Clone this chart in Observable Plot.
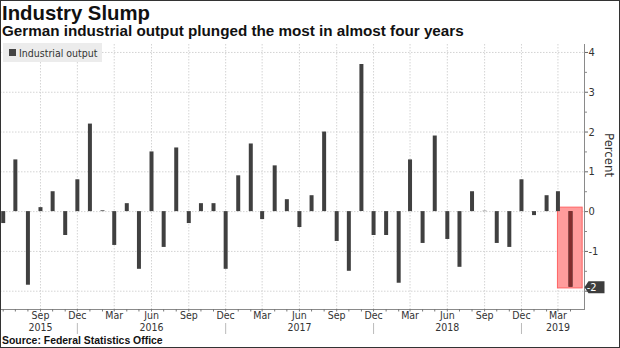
<!DOCTYPE html>
<html><head><meta charset="utf-8">
<script src="https://cdn.jsdelivr.net/npm/d3@7"></script>
<script src="https://cdn.jsdelivr.net/npm/@observablehq/plot@0.6"></script>
<style>
html,body{margin:0;padding:0;background:#fff;}
#wrap{position:relative;width:620px;height:348px;overflow:hidden;background:#fff;}
.hdr{position:absolute;left:2px;white-space:nowrap;font-family:"Liberation Sans",Arial,sans-serif;font-weight:bold;color:#111;line-height:1;}
#border{position:absolute;left:0;top:0;right:0;bottom:0;border:1px solid #333;pointer-events:none;}
#legend{position:absolute;left:3px;top:43px;height:19px;padding:0 5px 0 6px;background:#ececec;display:flex;align-items:center;font-family:"DejaVu Sans Condensed","DejaVu Sans",sans-serif;font-stretch:condensed;font-size:10.5px;color:#333;white-space:nowrap;}
#legend i{display:inline-block;width:7px;height:7px;background:#444;margin-right:3px;}
#chart{position:absolute;left:0;top:44px;}
</style></head>
<body><div id="wrap">
<div id="title" class="hdr"></div>
<div id="subtitle" class="hdr"></div>
<div id="chart"></div>
<div id="legend"><i></i><span id="legendText"></span></div>
<div id="source" class="hdr"></div>
<div id="border"></div>
</div>
<script>
const titleText = "Industry Slump";
const subtitleText = "German industrial output plunged the most in almost four years";
const sourceText = "Source: Federal Statistics Office";
const seriesName = "Industrial output";
const axisLabel = "Percent";

const months = [
  "2015-06","2015-07","2015-08","2015-09","2015-10","2015-11","2015-12",
  "2016-01","2016-02","2016-03","2016-04","2016-05","2016-06","2016-07","2016-08","2016-09","2016-10","2016-11","2016-12",
  "2017-01","2017-02","2017-03","2017-04","2017-05","2017-06","2017-07","2017-08","2017-09","2017-10","2017-11","2017-12",
  "2018-01","2018-02","2018-03","2018-04","2018-05","2018-06","2018-07","2018-08","2018-09","2018-10","2018-11","2018-12",
  "2019-01","2019-02","2019-03","2019-04"
];
const values = [
  -0.3, 1.3, -1.85, 0.1, 0.5, -0.6, 0.8,
  2.2, 0.02, -0.85, 0.2, -1.45, 1.5, -0.9, 1.6, -0.3, 0.2, 0.2, -1.45,
  0.9, 1.7, -0.2, 1.15, 0.3, -0.4, 0.4, 2.0, -0.75, -1.5, 3.7, -0.6,
  -0.6, -1.8, 1.3, -0.8, 1.9, -0.7, -1.4, 0.5, 0.01, -0.8, -0.9, 0.8,
  -0.1, 0.4, 0.5, -1.9
];
const yTicks = [-2, -1, 0, 1, 2, 3, 4];
const yTickLabels = ["", "-1", "0", "1", "2", "3", "4"];
const yMinorTicks = [-1.5, -0.5, 0.5, 1.5, 2.5, 3.5];
const labelMonths = ["2015-09","2015-12","2016-03","2016-06","2016-09","2016-12","2017-03","2017-06","2017-09","2017-12","2018-03","2018-06","2018-09","2018-12","2019-03"];
const yearLabelMonths = ["2015-09","2016-06","2017-06","2018-06","2019-03"];
const yearBreakMonths = ["2015-12","2016-12","2017-12","2018-12"];
const highlight = [{from: "2019-03", to: "2019-05", top: 0.1, bottom: -1.93}];

const parse = d3.utcParse("%Y-%m");
const data = months.map((m, i) => ({date: parse(m), value: values[i]}));
const last = data.slice(-1);

const tagSymbol = {draw(ctx) {
  ctx.moveTo(-10, 0); ctx.lineTo(-6, -6); ctx.lineTo(10, -6); ctx.lineTo(10, 6); ctx.lineTo(-6, 6); ctx.closePath();
}};

const plot = Plot.plot({
  width: 620, height: 291,
  marginTop: 0, marginBottom: 26, marginLeft: 0, marginRight: 36,
  style: {fontFamily: "'DejaVu Sans Condensed','DejaVu Sans',sans-serif", fontStretch: "condensed", fontSize: "11px", color: "#333", background: "transparent", overflow: "visible"},
  x: {type: "utc", domain: [data[0].date, last[0].date], range: [2.7, 570]},
  y: {domain: [-2.46, 4.2]},
  marks: [
    Plot.gridY(yTicks, {stroke: "#d4d4d4", strokeOpacity: 1, strokeDasharray: "1.5,1.5"}),
    Plot.gridX(labelMonths.map(parse), {stroke: "#d4d4d4", strokeOpacity: 1, strokeDasharray: "1.5,1.5"}),
    Plot.rect(highlight, {x1: d => parse(d.from), x2: d => parse(d.to), y1: "top", y2: "bottom", fill: "#ff9c9c", stroke: "#ff6464"}),
    Plot.ruleX(data, {x: "date", y1: 0, y2: "value", stroke: "#404040", strokeWidth: 4}),
    Plot.ruleX(last, {x: "date", y1: 0, y2: "value", stroke: "#822d2d", strokeWidth: 4}),
    Plot.frame({anchor: "right", stroke: "#8a8a8a"}),
    Plot.frame({anchor: "bottom", stroke: "#8a8a8a"}),
    Plot.axisY(yTicks, {anchor: "right", tickSize: 3, tickPadding: 1, tickFormat: (d, i) => yTickLabels[yTicks.indexOf(d)], label: null, stroke: "#666"}),
    Plot.axisY(yMinorTicks, {anchor: "right", tickSize: 2, tickFormat: () => "", label: null, stroke: "#888"}),
    Plot.text([axisLabel], {frameAnchor: "right", dx: 25, rotate: 90, fontSize: 13, fill: "#333"}),
    Plot.axisX(data.map(d => d.date), {tickSize: 2.5, tickFormat: () => "", label: null, stroke: "#777"}),
    Plot.axisX(labelMonths.map(parse), {tickSize: 0, tickPadding: 2, tickFormat: d3.utcFormat("%b"), label: null, fontSize: 10.5}),
    Plot.axisX(yearLabelMonths.map(parse), {tickSize: 0, tickPadding: 14.5, tickFormat: d3.utcFormat("%Y"), label: null, fontSize: 10.5}),
    Plot.axisX(yearBreakMonths.map(parse), {tickSize: 11, dy: 14, tickFormat: () => "", label: null, stroke: "#bbb"}),
    Plot.dot(last, {y: "value", frameAnchor: "right", dx: 10, symbol: tagSymbol, fill: "#3d3d3d", stroke: "none"}),
    Plot.text(last, {y: "value", frameAnchor: "right", dx: 12, text: d => String(Math.round(d.value)), fill: "white", fontSize: 11})
  ]
});
document.getElementById("chart").appendChild(plot);
document.getElementById("legendText").textContent = seriesName;

function place(id, text, size, width, baseline) {
  const el = document.getElementById(id);
  el.textContent = text;
  el.style.fontSize = size + "px";
  const w = el.getBoundingClientRect().width;
  const fs = size * width / w;
  el.style.fontSize = fs + "px";
  el.style.top = (baseline - 0.8465 * fs) + "px";
}
place("title", titleText, 20, 148, 20);
place("subtitle", subtitleText, 14, 462, 36);
place("source", sourceText, 10.5, 161, 345);
</script>
</body></html>
